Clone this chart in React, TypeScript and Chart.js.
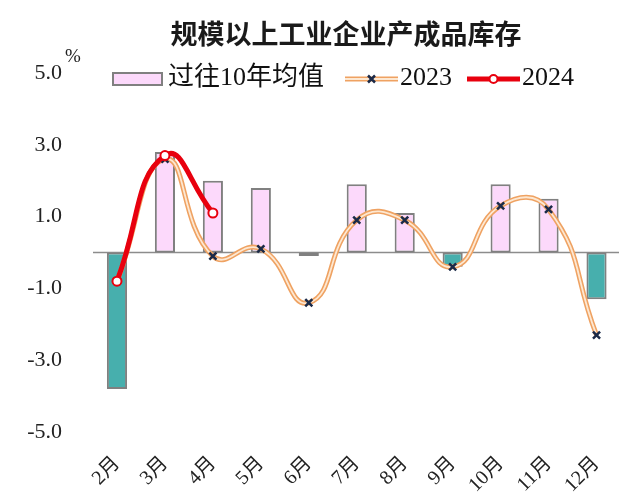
import React, { useEffect, useRef } from "react";
import { Chart, registerables } from "chart.js";

Chart.register(...registerables);

// ---- data ----
const months = ["2月", "3月", "4月", "5月", "6月", "7月", "8月", "9月", "10月", "11月", "12月"];
const avg10Years = [-3.8, 2.8, 2.0, 1.8, -0.1, 1.9, 1.1, -0.4, 1.9, 1.5, -1.3];
const values2023 = [-0.8, 2.6, -0.1, 0.1, -1.4, 0.9, 0.9, -0.4, 1.3, 1.2, -2.3];
const values2024: (number | null)[] = [-0.8, 2.7, 1.1, null, null, null, null, null, null, null, null];
const yTickValues = [5, 3, 1, -1, -3, -5];
const titleText = "规模以上工业企业产成品库存";
const unitText = "%";
const legendLabels = ["过往10年均值", "2023", "2024"];

// ---- styles ----
const PINK = "#FCD9FB";
const TEAL = "#47AFAD";
const BAR_BORDER = "#808080";
const ORANGE = "#EFA262";
const ORANGE_INNER = "#FDE8D2";
const MARK = "#1B2A48";
const RED = "#E8000E";
const SERIF = '"Liberation Serif", "Noto Sans CJK SC", serif';

const overlayPlugin = {
  id: "overlay",
  beforeDatasetsDraw(chart: any) {
    const { ctx, chartArea, scales } = chart;
    const y0 = scales.y.getPixelForValue(0);
    ctx.save();
    ctx.strokeStyle = "#8C8C8C";
    ctx.lineWidth = 1.5;
    ctx.beginPath();
    ctx.moveTo(chartArea.left, y0);
    ctx.lineTo(chartArea.right, y0);
    ctx.stroke();
    ctx.restore();
  },
  afterDraw(chart: any) {
    const { ctx, chartArea } = chart;
    ctx.save();
    // title
    ctx.fillStyle = "#1A1A1A";
    ctx.font = 'bold 27px "Noto Sans CJK SC", sans-serif';
    ctx.textAlign = "center";
    ctx.textBaseline = "middle";
    ctx.fillText(titleText, 346, 34);

    // unit
    ctx.font = "19px " + SERIF;
    ctx.fillStyle = "#222";
    ctx.fillText(unitText, chartArea.left - 20, chartArea.top - 16);

    // legend
    const ly = 79;
    let x = 113;
    ctx.textAlign = "left";
    ctx.font = "26px " + SERIF;
    // bar box
    ctx.fillStyle = PINK;
    ctx.fillRect(x, ly - 6, 49, 12);
    ctx.strokeStyle = BAR_BORDER;
    ctx.lineWidth = 2;
    ctx.strokeRect(x, ly - 6, 49, 12);
    x += 55;
    ctx.fillStyle = "#111";
    ctx.fillText(legendLabels[0], x, ly - 1);
    x += ctx.measureText(legendLabels[0]).width + 21;

    // 2023 line
    ctx.lineCap = "butt";
    ctx.strokeStyle = ORANGE;
    ctx.lineWidth = 5;
    ctx.beginPath();
    ctx.moveTo(x, ly);
    ctx.lineTo(x + 53, ly);
    ctx.stroke();
    ctx.strokeStyle = ORANGE_INNER;
    ctx.lineWidth = 1.8;
    ctx.beginPath();
    ctx.moveTo(x, ly);
    ctx.lineTo(x + 53, ly);
    ctx.stroke();
    const cx = x + 26.5;
    ctx.strokeStyle = MARK;
    ctx.lineWidth = 2.5;
    ctx.beginPath();
    ctx.moveTo(cx - 3.5, ly - 3.5);
    ctx.lineTo(cx + 3.5, ly + 3.5);
    ctx.moveTo(cx + 3.5, ly - 3.5);
    ctx.lineTo(cx - 3.5, ly + 3.5);
    ctx.stroke();
    x += 55;
    ctx.fillStyle = "#111";
    ctx.fillText(legendLabels[1], x, ly - 1);
    x += ctx.measureText(legendLabels[1]).width + 15;

    // 2024 line
    ctx.strokeStyle = RED;
    ctx.lineWidth = 5;
    ctx.beginPath();
    ctx.moveTo(x, ly);
    ctx.lineTo(x + 53, ly);
    ctx.stroke();
    ctx.fillStyle = "#fff";
    ctx.lineWidth = 2;
    ctx.beginPath();
    ctx.arc(x + 26.5, ly, 4, 0, Math.PI * 2);
    ctx.fill();
    ctx.stroke();
    x += 55;
    ctx.fillStyle = "#111";
    ctx.fillText(legendLabels[2], x, ly - 1);
    ctx.restore();
  },
};

export default function App() {
  const ref = useRef<HTMLCanvasElement | null>(null);

  useEffect(() => {
    if (!ref.current) return;
    const chart = new Chart(ref.current, {
      type: "bar",
      data: {
        labels: months,
        datasets: [
          {
            type: "bar",
            label: legendLabels[0],
            data: avg10Years,
            backgroundColor: avg10Years.map((v) => (v >= 0 ? PINK : TEAL)),
            borderColor: BAR_BORDER,
            borderWidth: 2,
            borderSkipped: false,
            barPercentage: 0.42,
            categoryPercentage: 1,
            order: 4,
          } as any,
          {
            type: "line",
            label: legendLabels[1],
            data: values2023,
            borderColor: ORANGE,
            borderWidth: 5,
            pointRadius: 0,
            tension: 0.5,
            fill: false,
            order: 3,
          } as any,
          {
            type: "line",
            label: legendLabels[1] + " inner",
            data: values2023,
            borderColor: ORANGE_INNER,
            borderWidth: 1.8,
            pointStyle: "crossRot",
            pointRadius: 5,
            pointBorderColor: MARK,
            pointBackgroundColor: MARK,
            pointBorderWidth: 2.5,
            tension: 0.5,
            fill: false,
            order: 2,
          } as any,
          {
            type: "line",
            label: legendLabels[2],
            data: values2024,
            borderColor: RED,
            borderWidth: 5,
            pointStyle: "circle",
            pointRadius: 4.5,
            pointBackgroundColor: "#fff",
            pointBorderColor: RED,
            pointBorderWidth: 2,
            tension: 0.5,
            fill: false,
            spanGaps: false,
            order: 1,
          } as any,
        ],
      },
      options: {
        responsive: false,
        animation: false,
        layout: { padding: { left: 10, top: 73, right: 0, bottom: 0 } },
        plugins: {
          legend: { display: false },
          title: { display: false },
          tooltip: { enabled: false },
        },
        scales: {
          x: {
            offset: true,
            grid: { display: false },
            border: { display: false },
            ticks: {
              autoSkip: false,
              minRotation: 45,
              maxRotation: 45,
              padding: 12,
              color: "#222",
              font: { family: SERIF, size: 20 },
            },
            afterFit: (s: any) => {
              s.height = 65;
            },
          },
          y: {
            min: -5,
            max: 5,
            grid: { display: false, drawTicks: false },
            border: { display: false },
            afterBuildTicks: (s: any) => {
              s.ticks = yTickValues.map((v) => ({ value: v }));
            },
            ticks: {
              padding: 31,
              color: "#222",
              font: { family: SERIF, size: 22 },
              callback: (v: any) => Number(v).toFixed(1),
            },
            afterFit: (s: any) => {
              s.width = 83;
            },
          },
        },
      },
      plugins: [overlayPlugin],
    });
    return () => chart.destroy();
  }, []);

  return (
    <canvas
      ref={ref}
      width={628}
      height={497}
      style={{ position: "fixed", left: 0, top: 0, display: "block", background: "#fff" }}
    />
  );
}
